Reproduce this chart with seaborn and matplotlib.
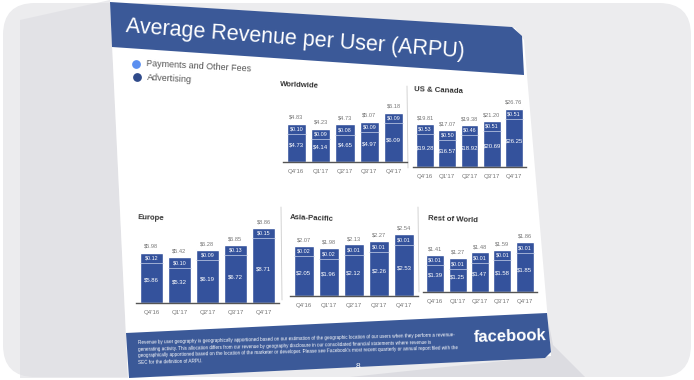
import matplotlib
matplotlib.use("Agg")
import matplotlib.pyplot as plt
import seaborn as sns
from matplotlib.patches import FancyBboxPatch, Polygon

QUARTERS = ["Q4'16", "Q1'17", "Q2'17", "Q3'17", "Q4'17"]

REGIONS = ["Worldwide", "US & Canada", "Europe", "Asia-Pacific", "Rest of World"]
TOTAL = {
    "Worldwide": [4.83, 4.23, 4.73, 5.07, 6.18],
    "US & Canada": [19.81, 17.07, 19.38, 21.20, 26.76],
    "Europe": [5.98, 5.42, 6.28, 6.85, 8.86],
    "Asia-Pacific": [2.07, 1.98, 2.13, 2.27, 2.54],
    "Rest of World": [1.41, 1.27, 1.48, 1.59, 1.86],
}
ADVERTISING = {
    "Worldwide": [4.73, 4.14, 4.65, 4.97, 6.09],
    "US & Canada": [19.28, 16.57, 18.92, 20.69, 26.25],
    "Europe": [5.86, 5.32, 6.19, 6.72, 8.71],
    "Asia-Pacific": [2.05, 1.96, 2.12, 2.26, 2.53],
    "Rest of World": [1.39, 1.25, 1.47, 1.58, 1.85],
}
PAYMENTS = {
    "Worldwide": [0.10, 0.09, 0.08, 0.09, 0.09],
    "US & Canada": [0.53, 0.50, 0.46, 0.51, 0.51],
    "Europe": [0.12, 0.10, 0.09, 0.13, 0.15],
    "Asia-Pacific": [0.02, 0.02, 0.01, 0.01, 0.01],
    "Rest of World": [0.01, 0.01, 0.01, 0.01, 0.01],
}

FB_BLUE = "#3b5998"
BAR_DARK = "#34529c"
BAR_LIGHT = "#5f80c8"
LEGEND_LIGHT = "#5b8ff0"

W, H = 694, 380

# panel boxes in pixels: left, right, baseline y, top of tallest bar y
PANELS = {
    "Worldwide": (283, 407, 162, 112),
    "US & Canada": (413, 526, 167, 108),
    "Europe": (136, 279, 303, 227),
    "Asia-Pacific": (290, 418, 296, 234),
    "Rest of World": (423, 537, 292, 242),
}
TITLE_POS = {
    "Worldwide": (280, 85),
    "US & Canada": (414, 90),
    "Europe": (138, 218),
    "Asia-Pacific": (290, 218),
    "Rest of World": (428, 219),
}

sns.set_theme(style="white")
plt.rcParams["font.family"] = ["Liberation Sans", "DejaVu Sans"]

fig = plt.figure(figsize=(W / 100, H / 100), dpi=100)
fig.patch.set_facecolor("white")

bg = fig.add_axes([0, 0, 1, 1], zorder=0)
bg.set_xlim(0, W)
bg.set_ylim(H, 0)
bg.axis("off")

bg.add_patch(FancyBboxPatch((3, 3), W - 6, H - 6, boxstyle="round,pad=0,rounding_size=32",
                            facecolor="#ececee", edgecolor="none"))
bg.add_patch(Polygon([(20, 20), (110, 0), (128, 378), (20, 378)], closed=True,
                     facecolor="#dcdce1", edgecolor="none", alpha=0.6))
# soft shadow at the lower right of the slide
bg.add_patch(Polygon([(548, 320), (553, 345), (585, 377), (350, 377), (551, 356)], closed=True,
                     facecolor="#dcdce1", edgecolor="none"))

# slide, banner and footer
bg.add_patch(Polygon([(110, 2), (515, 28), (524, 40), (551, 356), (128, 378)], closed=True,
                     facecolor="white", edgecolor="none"))
bg.add_patch(Polygon([(110, 2), (512, 27), (522, 36), (524, 75), (112, 47)], closed=True,
                     facecolor=FB_BLUE, edgecolor="none"))
bg.add_patch(Polygon([(126, 333), (547, 313), (551, 352), (545, 358), (129, 378)], closed=True,
                     facecolor=FB_BLUE, edgecolor="none"))

bg.text(126, 27, "Average Revenue per User (ARPU)", color="white", fontsize=15.5,
        rotation=-4.3, rotation_mode="anchor", va="center", ha="left")

bg.scatter([136], [64], s=28, color=LEGEND_LIGHT)
bg.scatter([137], [77], s=28, color="#2f4a8a")
bg.text(146, 64, "Payments and Other Fees", fontsize=6.5, color="#555555",
        rotation=-3, rotation_mode="anchor", va="center")
bg.text(147, 78, "Advertising", fontsize=6.5, color="#555555",
        rotation=-3, rotation_mode="anchor", va="center")

# separators between panels
for x, y0, y1 in [(407, 86, 168), (281, 207, 300), (418, 207, 292)]:
    bg.plot([x, x + 1], [y0, y1], color="#cccccc", lw=0.6)

footer = [
    "Revenue by user geography is geographically apportioned based on our estimation of the geographic location of our users when they perform a revenue-",
    "generating activity. This allocation differs from our revenue by geography disclosure in our consolidated financial statements where revenue is",
    "geographically apportioned based on the location of the marketer or developer. Please see Facebook's most recent quarterly or annual report filed with the",
    "SEC for the definition of ARPU.",
]
for i, line in enumerate(footer):
    bg.text(138, 343 + i * 6.5, line, fontsize=3.35, color="white",
            rotation=1.4, rotation_mode="anchor", va="center")
bg.text(510, 337, "facebook", fontsize=12, fontweight="bold", color="white",
        rotation=1.5, rotation_mode="anchor", va="center", ha="center")
bg.text(358, 366, "8", fontsize=6, color="white", va="center", ha="center")

for region in REGIONS:
    x0, x1, yb, yt = PANELS[region]
    ax = fig.add_axes([x0 / W, 1 - yb / H, (x1 - x0) / W, (yb - yt) / H], zorder=2)
    ax.patch.set_alpha(0)
    total = TOTAL[region]
    ads = ADVERTISING[region]
    pay = PAYMENTS[region]

    sns.barplot(x=QUARTERS, y=total, color=BAR_LIGHT, saturation=1, width=0.8, ax=ax)
    sns.barplot(x=QUARTERS, y=ads, color=BAR_DARK, saturation=1, width=0.8, ax=ax)

    top = max(total)
    ax.set_ylim(0, top)
    ax.set_xlim(-0.55, 4.55)
    step = top / (yb - yt)  # data units per pixel
    for i in range(len(QUARTERS)):
        ax.text(i, total[i] + 3 * step, f"${total[i]:.2f}", ha="center", va="bottom",
                fontsize=4.1, color="#777777", clip_on=False)
        ax.text(i, total[i] - 6 * step, f"${pay[i]:.2f}", ha="center", va="center",
                fontsize=3.9, color="white")
        ax.plot([i - 0.4, i + 0.4], [total[i] - 11 * step] * 2, color="#c9d3ea", lw=0.5)
        ax.text(i, ads[i] * 0.45, f"${ads[i]:.2f}", ha="center", va="center",
                fontsize=4.3, color="white")

    ax.set_yticks([])
    ax.set_xlabel("")
    ax.set_ylabel("")
    ax.tick_params(axis="x", length=0, labelsize=4.4, labelcolor="#777777", pad=5)
    for s in ["top", "right", "left"]:
        ax.spines[s].set_visible(False)
    ax.spines["bottom"].set_color("#555555")
    ax.spines["bottom"].set_linewidth(1.0)

    tx, ty = TITLE_POS[region]
    bg.text(tx, ty, region, fontsize=5.6, fontweight="bold", color="#333333",
            rotation=-2.5, rotation_mode="anchor", va="center")

fig.savefig("out.png", dpi=100)
